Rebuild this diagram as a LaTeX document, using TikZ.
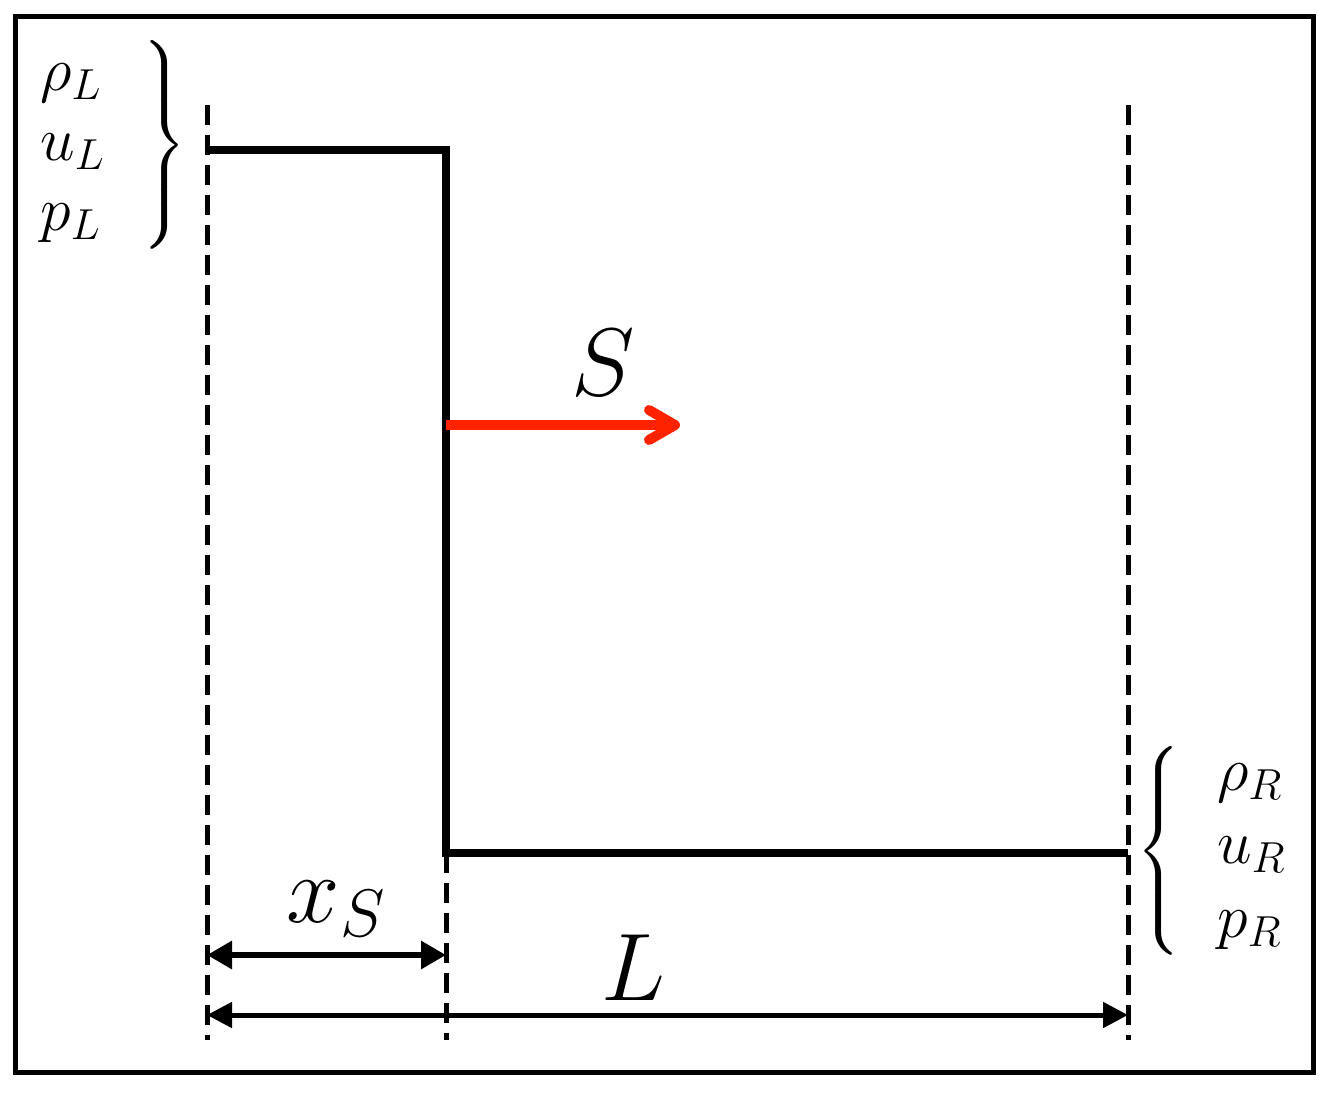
\RequirePackage{fix-cm}
\documentclass[tikz,border=0pt]{standalone}
\usepackage{amsmath}
\usetikzlibrary{arrows.meta}
\definecolor{shockred}{HTML}{FF2200}
\begin{document}
\begin{tikzpicture}[x=0.5pt,y=-0.5pt,
  frame/.style={line width=2.5pt},
  guide/.style={line width=2.5pt, dash pattern=on 10pt off 5pt},
  profile/.style={line width=4pt, line join=miter},
  shockarrow/.style={line width=5pt, shockred, -{Straight Barb[length=13pt,width=15pt,line cap=round,line join=round]}},
  dimA/.style={line width=3pt, {Triangle[length=12.5pt,width=13.5pt]}-{Triangle[length=12.5pt,width=13.5pt]}},
  dimB/.style={line width=2.5pt, {Triangle[length=12.5pt,width=12.5pt]}-{Triangle[length=12.5pt,width=12.5pt]}},
  small/.style={inner sep=0pt, font=\fontsize{31}{35}\selectfont},
  big/.style={inner sep=0pt, font=\fontsize{48}{56}\selectfont},
  bracefont/.style={inner sep=0pt, font=\fontsize{27}{32}\selectfont}]
\useasboundingbox (0,0) rectangle (1334,1093);
\fill[white] (0,0) rectangle (1334,1093);
\draw[frame] (15,16) rectangle (1313,1072);
% coordinates
\coordinate (lt) at (207,105);
\coordinate (lb) at (207,1040);
\coordinate (mt) at (446,853);
\coordinate (mb) at (446,1040);
\coordinate (rt) at (1128,105);
\coordinate (rb) at (1128,1040);
\coordinate (p1) at (207,150);
\coordinate (p2) at (446,150);
\coordinate (p3) at (446,853);
\coordinate (p4) at (1128,853);
\coordinate (s0) at (446,425);
\coordinate (s1) at (680,425);
\coordinate (xa) at (207,955);
\coordinate (xb) at (446,955);
\coordinate (La) at (207,1015);
\coordinate (Lb) at (1128,1015);
% guides
\draw[guide] (lt) -- (lb);
\draw[guide] (mt) -- (mb);
\draw[guide] (rt) -- (rb);
% profile
\draw[profile] (p1) -- (p2) -- (p3) -- (p4);
% shock arrow
\draw[shockarrow] (s0) -- (s1);
\node[big, anchor=base] (Slab) at (603,395) {$S$};
% dimensions
\draw[dimA] (xa) -- (xb);
\draw[dimB] (La) -- (Lb);
\node[big, anchor=base] (xlab) at (336,922) {$x_{S}$};
\node[big, anchor=base] (Llab) at (633,1000) {$L$};
% left states
\node[small, anchor=base west] (rhoL) at (40,90) {$\rho_L$};
\node[small, anchor=base west] (uL) at (40,160) {$u_L$};
\node[small, anchor=base west] (pL) at (40,230) {$p_L$};
\node[bracefont] (braceL) at (163,145) {$\delimitershortfall=0pt\delimiterfactor=1000\left.\vrule height 45pt depth 45pt width 0pt\right\}$};
% right states
\node[small, anchor=base west] (rhoR) at (1217,790) {$\rho_R$};
\node[small, anchor=base west] (uR) at (1217,863) {$u_R$};
\node[small, anchor=base west] (pR) at (1217,937) {$p_R$};
\node[bracefont] (braceR) at (1160,851) {$\delimitershortfall=0pt\delimiterfactor=1000\left\{\vrule height 45pt depth 45pt width 0pt\right.$};
\end{tikzpicture}
\end{document}
